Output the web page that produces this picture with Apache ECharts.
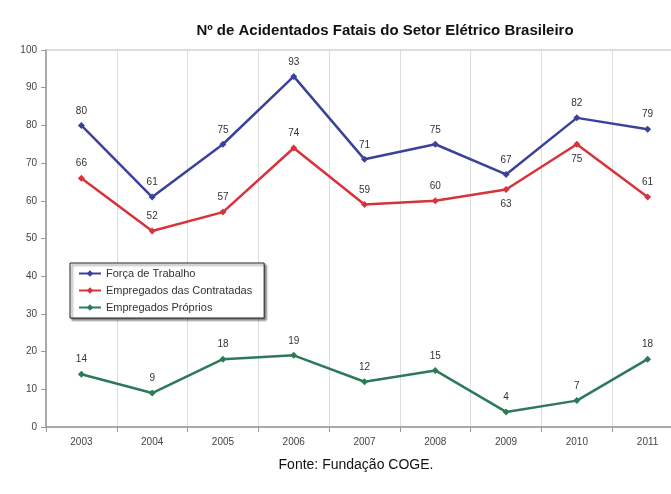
<!DOCTYPE html>
<html><head><meta charset="utf-8">
<script src="https://cdn.jsdelivr.net/npm/echarts@6/dist/echarts.min.js"></script>
<style>html,body{margin:0;padding:0;background:#fff}#c{width:671px;height:494px}</style>
</head><body><div id="c"></div>
<script>
const years = ['2003','2004','2005','2006','2007','2008','2009','2010','2011'];
const forcaTrabalho = [80, 61, 75, 93, 71, 75, 67, 82, 79];
const contratadas = [66, 52, 57, 74, 59, 60, 63, 75, 61];
const proprios = [14, 9, 18, 19, 12, 15, 4, 7, 18];
const yTicks = [0,10,20,30,40,50,60,70,80,90,100];

const chart = echarts.init(document.getElementById('c'), null, {renderer:'canvas'});
const font = 'Liberation Sans, Arial, sans-serif';
const lbl = {show:true, position:'top', fontSize:10, color:'#333', fontFamily:font, distance:6};
function mk(name, data, color, belowIdx){
  return {
    name, type:'line', data: data.map((v,i)=> belowIdx.includes(i) ? {value:v, label:{position:'bottom'}} : v),
    symbol:'diamond', symbolSize:7, lineStyle:{width:2.5, color}, itemStyle:{color},
    label: lbl
  };
}
chart.setOption({
  animation:false,
  backgroundColor:'#fff',
  title:[{text:'Nº de Acidentados Fatais do Setor Elétrico Brasileiro', left:380, textAlign:'center', top:18,
    textStyle:{fontSize:15, fontWeight:'bold', color:'#111', fontFamily:font}},
    {text:'Fonte: Fundação COGE.', left:351, textAlign:'center', top:453,
    textStyle:{fontSize:14, fontWeight:'normal', color:'#111', fontFamily:font}}],
  grid:{left:46, right:-12, top:50, bottom:67, show:true, borderColor:'#bbb', borderWidth:1,
    outerBoundsMode:'none', containLabel:false},
  legend:{orient:'vertical', left:70, top:263, itemWidth:22, itemHeight:8, itemGap:6,
    padding:[5,12,5,8], borderColor:'#222', borderWidth:1, backgroundColor:'#fff',
    shadowColor:'rgba(0,0,0,0.5)', shadowBlur:2, shadowOffsetX:2, shadowOffsetY:2,
    textStyle:{fontSize:11, color:'#333', fontFamily:font},
    data:['Força de Trabalho','Empregados das Contratadas','Empregados Próprios']},
  xAxis:{type:'category', data:years, boundaryGap:true,
    axisLine:{lineStyle:{color:'#999', width:1.5}},
    axisTick:{show:true, length:5, lineStyle:{color:'#999'}},
    axisLabel:{fontSize:10, color:'#444', fontFamily:font, margin:10},
    splitLine:{show:true, lineStyle:{color:'#ddd', width:1}}},
  yAxis:{type:'value', min:0, max:100, interval:10,
    axisLine:{show:true, lineStyle:{color:'#999', width:1.5}},
    axisTick:{show:true, length:5, lineStyle:{color:'#999'}},
    axisLabel:{fontSize:10, color:'#444', fontFamily:font, margin:9, formatter:v=>yTicks.includes(v)?String(v):''},
    splitLine:{show:false}},
  series:[
    mk('Força de Trabalho', forcaTrabalho, '#3a4399', []),
    mk('Empregados das Contratadas', contratadas, '#d8333b', [6,7]),
    mk('Empregados Próprios', proprios, '#2e7a58', [])
  ]
});
</script></body></html>
